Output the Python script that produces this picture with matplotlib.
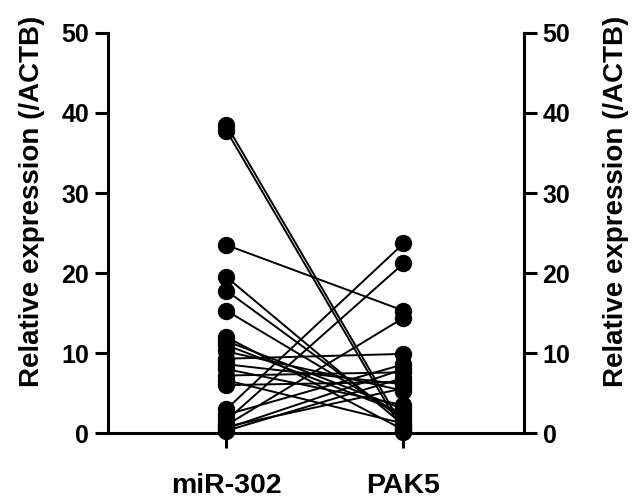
import matplotlib
matplotlib.use('Agg')
from matplotlib import pyplot as plt

# Paired values, one entry per sample.
groups = ['miR-302', 'PAK5']
mir302 = [38.5, 37.8, 23.5, 19.5, 17.8, 15.3, 12.0, 11.5, 11.0, 10.2,
          9.3, 8.6, 8.0, 7.2, 6.6, 6.0, 3.0, 2.3, 1.6, 1.0, 0.6, 0.3, 0.8]
pak5 = [0.7, 0.1, 15.3, 1.0, 1.6, 2.1, 0.4, 3.0, 2.5, 5.3,
        9.9, 6.1, 3.5, 7.6, 1.2, 6.4, 23.7, 8.6, 21.2, 14.4, 8.0, 6.9, 5.6]
yTicks = [0, 10, 20, 30, 40, 50]
yLabel = 'Relative expression (/ACTB)'

plt.rcParams['font.family'] = ['Liberation Sans', 'DejaVu Sans']
plt.rcParams['font.weight'] = 'bold'

fig = plt.figure(figsize=(6.42, 4.99), dpi=100)
ax = fig.add_axes([0.168, 0.132, 0.648, 0.802])

# Draw each pair as a connected line with dot ends.
for a, b in zip(mir302, pak5):
  ax.plot([0, 1], [a, b], color='black', linewidth=1.4, marker='o',
          markersize=11.5, markerfacecolor='black', markeredgecolor='black',
          clip_on=False, zorder=3)

ax.set_xlim(-0.67, 1.68)
ax.set_ylim(0, 50)
ax.set_xticks([0, 1])
ax.set_xticklabels(groups, fontsize=20.5, fontweight='bold')
ax.set_yticks(yTicks)
ax.set_yticklabels([str(t) for t in yTicks], fontsize=18, fontweight='bold')
ax.set_ylabel(yLabel, fontsize=20, fontweight='bold')
ax.yaxis.set_label_coords(-0.15, 0.58)

for side in ['left', 'bottom', 'right']:
  ax.spines[side].set_linewidth(2.2)
ax.spines['top'].set_visible(False)
ax.tick_params(axis='y', length=9.5, width=2.2, direction='out', pad=4)
ax.tick_params(axis='x', length=11, width=2.2, direction='out', pad=18)

# Mirror axis on the right.
ax2 = ax.twinx()
ax2.set_ylim(0, 50)
ax2.set_yticks(yTicks)
ax2.set_yticklabels([str(t) for t in yTicks], fontsize=18, fontweight='bold')
ax2.set_ylabel(yLabel, fontsize=20, fontweight='bold')
ax2.yaxis.set_label_coords(1.19, 0.58)
ax2.spines['top'].set_visible(False)
ax2.spines['right'].set_linewidth(2.2)
ax2.tick_params(axis='y', length=9.5, width=2.2, direction='out', pad=4)

fig.savefig('out.png', dpi=100)
